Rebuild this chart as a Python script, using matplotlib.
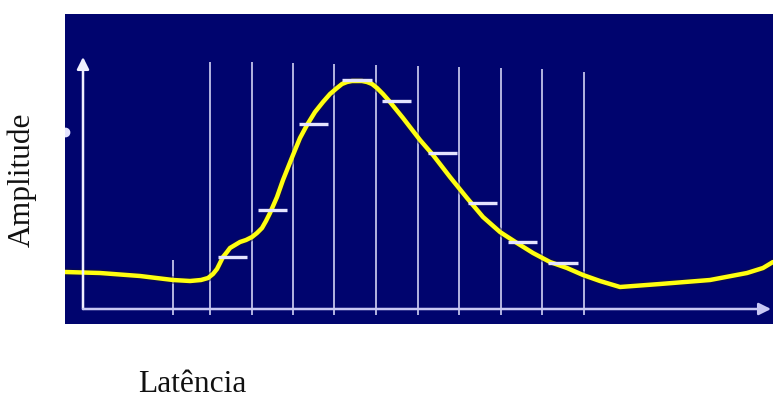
import numpy as np
import matplotlib.pyplot as plt

NAVY = '#00046e'
YELLOW = '#ffff10'
WHITE = '#e4e4ff'

# latency (x) and amplitude (y) of the yellow trace
curve_x = [-18, 17, 57, 90, 107, 118, 125, 130, 134, 137, 140, 144, 147, 152, 157,
           163, 169, 174, 179, 183, 187, 194, 200, 210, 217, 224, 232, 240, 247,
           254, 259, 264, 269, 274, 279, 284, 289, 294, 300, 307, 320, 337, 350,
           367, 384, 400, 417, 434, 450, 467, 484, 500, 517, 537, 577, 627, 664,
           680, 690]
curve_y = [37, 36, 33, 29, 28, 29, 31, 35, 40, 46, 52, 57, 61, 64, 67,
           69, 72, 76, 81, 88, 96, 112, 129, 154, 171, 184, 197, 207, 215,
           221, 225, 227, 228, 228, 228, 227, 225, 221, 215, 207, 191, 169, 154,
           132, 111, 92, 77, 66, 56, 47, 41, 34, 28, 22, 25, 29, 36,
           41, 47]

# vertical sampling lines
grid_x = [127, 169, 210, 251, 293, 335, 376, 418, 459, 501]
grid_top = [247, 247, 246, 245, 244, 243, 242, 241, 240, 237]
short_x = 90
short_top = 49

# white level marks between grid lines
seg_x0 = [135, 175, 216, 259, 299, 345, 385, 425, 465]
seg_x1 = [164, 204, 245, 289, 328, 374, 414, 454, 495]
seg_y = [52, 99, 185, 229, 208, 156, 106, 67, 46]

fig = plt.figure(figsize=(7.73, 4.01), dpi=100)
ax = fig.add_axes([65 / 773, 1 - 324 / 401, 708 / 773, 310 / 401])
ax.set_facecolor(NAVY)
ax.set_xlim(-18, 690)
ax.set_ylim(-15, 295)
ax.set_xticks([])
ax.set_yticks([])
for s in ax.spines.values():
    s.set_visible(False)

ax.vlines(grid_x, -6, grid_top, color=WHITE, lw=1.1)
ax.vlines(short_x, -6, short_top, color=WHITE, lw=1.1)

# axes with arrows
ax.annotate('', xy=(0, 252), xytext=(0, 0),
            arrowprops=dict(arrowstyle='-|>', color='#f0f0ff', lw=1.8,
                            mutation_scale=18, shrinkA=0, shrinkB=0))
ax.annotate('', xy=(688, 0), xytext=(0, 0),
            arrowprops=dict(arrowstyle='-|>', color='#c8c8f4', lw=1.8,
                            mutation_scale=18, shrinkA=0, shrinkB=0))

ax.plot(curve_x, curve_y, color='#101040', lw=5.5, alpha=0.5,
        solid_joinstyle='round', solid_capstyle='round')
ax.plot(curve_x, curve_y, color=YELLOW, lw=3.2,
        solid_joinstyle='round', solid_capstyle='round')

ax.hlines(seg_y, seg_x0, seg_x1, color=WHITE, lw=2.4)

# small clipped white blob on the left edge
ax.plot([-18], [177], 'o', color=WHITE, ms=6, clip_on=True)

serif = ['Liberation Serif', 'DejaVu Serif']
fig.text(22 / 773, 1 - 180 / 401, 'Amplitude', rotation=90, ha='center',
         va='center', fontsize=22.7, family=serif, color='#111111')
fig.text(192 / 773, 1 - 385 / 401, 'Latência', ha='center', va='center',
         fontsize=22.7, family=serif, color='#111111')

fig.savefig('out.png', dpi=100)
